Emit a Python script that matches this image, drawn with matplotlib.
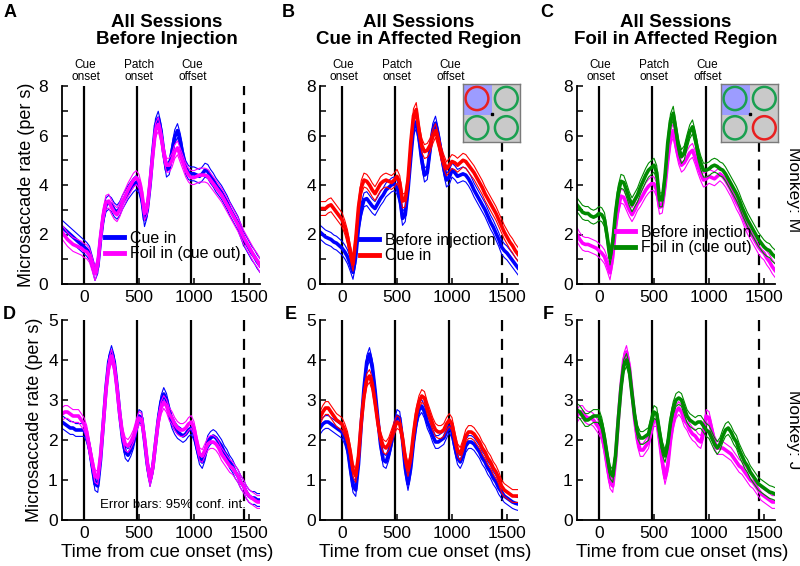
import matplotlib
matplotlib.use('Agg')
import matplotlib.pyplot as plt
import numpy as np
from matplotlib.ticker import MultipleLocator
from matplotlib.patches import Rectangle, Circle
import matplotlib.transforms as mtransforms

plt.rcParams['font.family'] = ['Liberation Sans', 'DejaVu Sans']

# ---------------- data (sampled every 25 ms from -200 to 1600 ms) ----------------
time_ms = list(range(-200, 1601, 25))

# Panel A (monkey M, before injection)
a_cue_in = [2.3, 2.2, 2.1, 2.0, 1.9, 1.8, 1.7, 1.6,
            1.5, 1.4, 1.25, 0.85, 0.42, 0.7, 1.8, 2.7,
            3.2, 3.3, 3.2, 3.0, 2.9, 3.05, 3.3, 3.5,
            3.7, 3.85, 4.0, 4.1, 3.95, 3.5, 2.6, 3.0,
            4.0, 5.3, 6.4, 6.7, 6.2, 5.3, 4.6, 4.7,
            5.35, 5.95, 6.2, 5.8, 5.15, 4.7, 4.5, 4.45,
            4.45, 4.4, 4.35, 4.45, 4.6, 4.55, 4.35, 4.2,
            4.0, 3.85, 3.7, 3.5, 3.3, 3.05, 2.85, 2.65,
            2.45, 2.15, 1.85, 1.65, 1.45, 1.25, 1.1, 0.9,
            0.75]
a_foil_in = [2.1, 1.95, 1.8, 1.7, 1.6, 1.55, 1.5, 1.45,
             1.35, 1.3, 1.15, 0.8, 0.42, 0.8, 1.9, 2.8,
             3.3, 3.35, 3.1, 2.9, 2.8, 3.0, 3.3, 3.55,
             3.8, 4.0, 4.2, 4.3, 4.15, 3.7, 2.85, 3.1,
             4.1, 5.2, 6.2, 6.45, 6.0, 5.3, 4.8, 4.8,
             5.0, 5.35, 5.5, 5.2, 4.9, 4.6, 4.4, 4.3,
             4.3, 4.35, 4.4, 4.4, 4.4, 4.35, 4.2, 4.05,
             3.9, 3.75, 3.6, 3.4, 3.2, 3.0, 2.8, 2.6,
             2.4, 2.15, 1.9, 1.7, 1.5, 1.3, 1.1, 0.95,
             0.75]
# Panel B (monkey M, cue in affected region)
b_before = [2.1, 2.0, 1.9, 1.85, 1.8, 1.7, 1.65, 1.55,
            1.45, 1.3, 1.1, 0.8, 0.47, 1.1, 2.3, 3.0,
            3.4, 3.45, 3.3, 3.15, 3.05, 3.25, 3.45, 3.6,
            3.8, 3.9, 4.0, 4.05, 3.9, 3.5, 2.65, 2.8,
            3.8, 5.1, 6.3, 6.55, 5.9, 5.0, 4.4, 4.5,
            5.4, 6.2, 6.5, 6.0, 5.35, 4.7, 4.2, 4.3,
            4.6, 4.5, 4.35, 4.4, 4.45, 4.4, 4.25, 4.05,
            3.8, 3.6, 3.4, 3.2, 3.0, 2.75, 2.5, 2.3,
            2.05, 1.8, 1.5, 1.35, 1.25, 1.1, 0.95, 0.8,
            0.65]
b_cue_in = [3.05, 3.05, 3.05, 3.15, 3.2, 3.05, 2.9, 2.75,
            2.6, 2.3, 1.9, 1.3, 0.8, 1.8, 3.1, 3.9,
            4.2, 4.15, 4.0, 3.8, 3.65, 3.85, 4.05, 4.15,
            4.2, 4.15, 4.1, 4.2, 4.35, 4.1, 3.35, 3.4,
            4.2, 5.7, 6.8, 7.05, 6.2, 5.6, 5.35, 5.4,
            5.6, 5.95, 6.2, 5.8, 5.3, 4.95, 4.65, 4.8,
            4.95, 4.9, 4.8, 4.9, 5.0, 4.95, 4.8, 4.65,
            4.5, 4.3, 4.1, 3.9, 3.65, 3.45, 3.25, 3.05,
            2.85, 2.6, 2.35, 2.1, 1.9, 1.7, 1.55, 1.35,
            1.2]
# Panel C (monkey M, foil in affected region)
c_before = [2.0, 1.8, 1.65, 1.6, 1.6, 1.55, 1.5, 1.45,
            1.35, 1.25, 1.1, 0.8, 0.45, 1.1, 2.3, 3.1,
            3.55, 3.5, 3.25, 3.0, 2.8, 3.0, 3.25, 3.4,
            3.6, 3.8, 3.95, 4.05, 4.05, 3.8, 3.1, 3.15,
            3.95, 5.0, 5.9, 6.2, 5.6, 5.1, 4.8, 4.9,
            5.1, 5.3, 5.4, 5.1, 4.75, 4.45, 4.2, 4.25,
            4.35, 4.3, 4.25, 4.35, 4.45, 4.35, 4.2, 4.0,
            3.8, 3.55, 3.3, 3.1, 2.85, 2.55, 2.3, 2.1,
            1.9, 1.7, 1.5, 1.35, 1.25, 1.05, 0.9, 0.7,
            0.55]
c_foil_in = [3.2, 3.05, 2.9, 2.85, 2.85, 2.75, 2.7, 2.75,
             2.85, 2.8, 2.6, 1.9, 1.05, 1.7, 2.85, 3.7,
             4.15, 4.1, 3.8, 3.45, 3.2, 3.4, 3.6, 3.9,
             4.15, 4.4, 4.6, 4.7, 4.8, 4.5, 3.4, 3.4,
             4.35, 5.7, 6.6, 6.9, 6.2, 5.5, 5.15, 5.3,
             5.75, 6.15, 6.35, 5.9, 5.3, 4.9, 4.6, 4.6,
             4.65, 4.75, 4.8, 4.75, 4.65, 4.6, 4.45, 4.25,
             4.05, 3.85, 3.65, 3.4, 3.1, 2.85, 2.6, 2.4,
             2.2, 2.0, 1.8, 1.65, 1.5, 1.4, 1.35, 1.2,
             1.1]
# Panel D (monkey J, before injection)
d_cue_in = [2.45, 2.4, 2.35, 2.3, 2.3, 2.25, 2.25, 2.25,
            2.25, 2.1, 1.8, 1.35, 0.9, 0.85, 1.5, 2.4,
            3.3, 3.95, 4.2, 3.95, 3.35, 2.65, 2.05, 1.7,
            1.62, 1.75, 1.95, 2.3, 2.6, 2.55, 2.0, 1.4,
            1.0, 1.3, 1.9, 2.5, 2.95, 3.15, 3.0, 2.7,
            2.45, 2.3, 2.2, 2.15, 2.1, 2.15, 2.25, 2.3,
            2.15, 1.85, 1.55, 1.45, 1.65, 1.95, 2.05, 2.1,
            2.05, 1.95, 1.85, 1.7, 1.6, 1.45, 1.35, 1.2,
            1.1, 0.95, 0.85, 0.7, 0.6, 0.55, 0.55, 0.5,
            0.5]
d_foil_in = [2.65, 2.7, 2.7, 2.65, 2.6, 2.6, 2.6, 2.5,
             2.4, 2.2, 1.8, 1.45, 1.1, 1.05, 1.6, 2.4,
             3.25, 3.85, 4.1, 3.85, 3.3, 2.65, 2.15, 1.9,
             1.85, 1.95, 2.1, 2.35, 2.55, 2.5, 2.05, 1.45,
             1.0, 1.3, 1.9, 2.45, 2.8, 2.95, 2.85, 2.65,
             2.55, 2.4, 2.3, 2.25, 2.25, 2.3, 2.4, 2.45,
             2.3, 1.95, 1.65, 1.6, 1.75, 1.9, 1.95, 1.95,
             1.9, 1.8, 1.65, 1.55, 1.45, 1.35, 1.3, 1.2,
             1.1, 0.95, 0.85, 0.7, 0.6, 0.55, 0.5, 0.45,
             0.45]
# Panel E (monkey J, cue in affected region)
e_before = [2.3, 2.4, 2.45, 2.45, 2.4, 2.35, 2.3, 2.25,
            2.2, 2.05, 1.8, 1.3, 0.85, 0.75, 1.4, 2.4,
            3.3, 3.95, 4.15, 3.85, 3.25, 2.55, 1.9, 1.5,
            1.45, 1.65, 1.95, 2.3, 2.6, 2.55, 2.0, 1.3,
            0.9, 1.3, 1.95, 2.45, 2.75, 2.85, 2.7, 2.45,
            2.3, 2.1, 1.95, 1.95, 2.0, 2.05, 2.2, 2.35,
            2.2, 1.85, 1.55, 1.45, 1.6, 1.85, 1.95, 1.95,
            1.9, 1.8, 1.7, 1.55, 1.45, 1.3, 1.2, 1.05,
            0.95, 0.8, 0.7, 0.6, 0.55, 0.5, 0.45, 0.42,
            0.4]
e_cue_in = [2.55, 2.7, 2.8, 2.8, 2.7, 2.6, 2.5, 2.45,
            2.4, 2.25, 2.05, 1.7, 1.25, 1.1, 1.6, 2.45,
            3.1, 3.5, 3.6, 3.4, 2.95, 2.45, 2.05, 1.85,
            1.8, 1.9, 2.1, 2.3, 2.45, 2.4, 2.05, 1.55,
            1.25, 1.55, 2.15, 2.65, 2.95, 3.1, 3.05, 2.8,
            2.6, 2.4, 2.25, 2.2, 2.2, 2.25, 2.4, 2.5,
            2.4, 2.05, 1.75, 1.65, 1.85, 2.1, 2.2, 2.2,
            2.15, 2.05, 1.95, 1.8, 1.7, 1.55, 1.45, 1.3,
            1.2, 1.05, 0.85, 0.75, 0.7, 0.65, 0.6, 0.6,
            0.6]
# Panel F (monkey J, foil in affected region)
f_before = [2.6, 2.7, 2.7, 2.6, 2.55, 2.55, 2.5, 2.4,
            2.3, 2.15, 1.8, 1.35, 0.95, 0.85, 1.5, 2.5,
            3.35, 4.0, 4.2, 3.85, 3.2, 2.5, 2.0, 1.75,
            1.75, 1.85, 1.95, 2.25, 2.5, 2.5, 2.0, 1.45,
            1.05, 1.35, 2.0, 2.45, 2.7, 2.8, 2.7, 2.5,
            2.4, 2.25, 2.15, 2.1, 2.0, 1.95, 2.2, 2.6,
            2.55, 2.25, 1.95, 1.8, 1.8, 1.8, 1.75, 1.7,
            1.65, 1.55, 1.45, 1.35, 1.3, 1.2, 1.1, 1.0,
            0.95, 0.85, 0.75, 0.65, 0.6, 0.55, 0.5, 0.45,
            0.45]
f_foil_in = [2.75, 2.7, 2.6, 2.5, 2.5, 2.55, 2.6, 2.6,
             2.6, 2.4, 2.05, 1.6, 1.2, 1.1, 1.6, 2.5,
             3.3, 3.85, 4.0, 3.75, 3.15, 2.6, 2.2, 2.05,
             2.05, 2.1, 2.15, 2.45, 2.7, 2.65, 2.2, 1.8,
             1.6, 1.9, 2.45, 2.8, 3.0, 3.05, 3.0, 2.8,
             2.6, 2.5, 2.45, 2.4, 2.45, 2.45, 2.35, 2.25,
             2.2, 2.05, 1.9, 1.8, 1.9, 2.1, 2.25, 2.3,
             2.2, 2.05, 1.95, 1.75, 1.6, 1.45, 1.35, 1.2,
             1.1, 1.0, 0.9, 0.85, 0.8, 0.75, 0.7, 0.68,
             0.65]

# 95% confidence half-widths
ci_top = 0.28
ci_bottom = 0.16

event_times = [0, 485, 970]
event_labels = ['Cue\nonset', 'Patch\nonset', 'Cue\noffset']
end_time = 1450

BLUE = '#0000ff'
MAG = '#ff00ff'
RED = '#ff0000'
GREEN = '#008a00'

panels = [
    dict(letter='A', row=0, col=0, s=[(a_cue_in, BLUE, 'Cue in'), (a_foil_in, MAG, 'Foil in (cue out)')],
         title='All Sessions\nBefore Injection', leg=(0.215, 0.27)),
    dict(letter='B', row=0, col=1, s=[(b_before, BLUE, 'Before injection'), (b_cue_in, RED, 'Cue in')],
         title='All Sessions\nCue in Affected Region', leg=(0.2, 0.26)),
    dict(letter='C', row=0, col=2, s=[(c_before, MAG, 'Before injection'), (c_foil_in, GREEN, 'Foil in (cue out)')],
         title='All Sessions\nFoil in Affected Region', leg=(0.195, 0.30)),
    dict(letter='D', row=1, col=0, s=[(d_cue_in, BLUE, None), (d_foil_in, MAG, None)]),
    dict(letter='E', row=1, col=1, s=[(e_before, BLUE, None), (e_cue_in, RED, None)]),
    dict(letter='F', row=1, col=2, s=[(f_before, MAG, None), (f_foil_in, GREEN, None)]),
]

fig = plt.figure(figsize=(8, 5.66), dpi=100)

lefts = [62 / 800, 320 / 800, 577 / 800]
width = 198 / 800
bottoms = [1 - 284 / 566, 1 - 520 / 566]
heights = [198 / 566, 200 / 566]
letter_pos = {'A': (4, 4), 'B': (282, 4), 'C': (540, 4), 'D': (3, 306), 'E': (285, 306), 'F': (543, 306)}

t = np.array(time_ms)
for p in panels:
    r, c = p['row'], p['col']
    ax = fig.add_axes([lefts[c], bottoms[r], width, heights[r]])
    ci = ci_top if r == 0 else ci_bottom
    handles = []
    for vals, col, lab in p['s']:
        v = np.array(vals)
        ax.plot(t, v + ci, color=col, lw=0.8)
        ax.plot(t, v - ci, color=col, lw=0.8)
        h, = ax.plot(t, v, color=col, lw=2.6)
        handles.append((h, lab))
    ymax = 8 if r == 0 else 5
    for et in event_times:
        ax.plot([et, et], [0, ymax], color='black', lw=1.6, zorder=1)
    ax.plot([end_time, end_time], [0, ymax], color='black', lw=1.6, ls=(0, (5, 3.5)), zorder=1)
    ax.set_xlim(-200, 1600)
    ax.set_ylim(0, ymax)
    ax.set_xticks([0, 500, 1000, 1500])
    if r == 0:
        ax.yaxis.set_major_locator(MultipleLocator(2))
        ax.yaxis.set_minor_locator(MultipleLocator(1))
    else:
        ax.yaxis.set_major_locator(MultipleLocator(1))
    for sp in ['top', 'right']:
        ax.spines[sp].set_visible(False)
    for sp in ['left', 'bottom']:
        ax.spines[sp].set_linewidth(1.3)
    ax.tick_params(which='both', direction='in', length=4, width=1.1, labelsize=12.5)
    ax.tick_params(axis='x', pad=4)
    ax.tick_params(axis='y', pad=(10 if (r == 0 and c == 0) else 3))
    if c == 0:
        ax.set_ylabel('Microsaccade rate (per s)', fontsize=13)
        ax.yaxis.set_label_coords(-0.135 if r == 0 else -0.095, 0.5)
    if r == 1:
        ax.set_xlabel('Time from cue onset (ms)', fontsize=13.5)
        ax.xaxis.set_label_coords(0.53, -0.12)
    if r == 0:
        trans = mtransforms.blended_transform_factory(ax.transData, ax.transAxes)
        for et, lab in zip(event_times, event_labels):
            ax.text(et + 15, 1.015, lab, transform=trans, ha='center', va='bottom', fontsize=8.5,
                    linespacing=0.95)
        tx = 0.53 if c == 0 else 0.5
        ax.text(tx, 1.19, p['title'], transform=ax.transAxes, ha='center', va='bottom',
                fontsize=13.5, fontweight='bold', linespacing=1.05)
        leg = ax.legend([h for h, _ in handles], [l for _, l in handles], loc='upper left',
                        bbox_to_anchor=p['leg'], frameon=False, fontsize=11.5, handlelength=1.2,
                        handletextpad=0.4, borderpad=0, borderaxespad=0, labelspacing=0.05)
        for ln in leg.get_lines():
            ln.set_linewidth(3.5)
    if p['letter'] == 'D':
        ax.text(0.56, 0.045, 'Error bars: 95% conf. int.', transform=ax.transAxes, ha='center',
                va='bottom', fontsize=9.5)
    lx, ly = letter_pos[p['letter']]
    fig.text(lx / 800, 1 - ly / 566, p['letter'], fontsize=13, fontweight='bold', ha='left', va='top')

fig.text(0.992, 1 - 190 / 566, 'Monkey: M', rotation=270, ha='center', va='center', fontsize=12.5)
fig.text(0.992, 1 - 430 / 566, 'Monkey: J', rotation=270, ha='center', va='center', fontsize=12.5)


def inset(x0, ring_colors):
    ia = fig.add_axes([x0 / 800, 1 - 142 / 566, 57 / 800, 58 / 566])
    ia.set_xlim(0, 1)
    ia.set_ylim(0, 1)
    ia.set_facecolor('#c9c9c9')
    for sp in ia.spines.values():
        sp.set_color('#7a7a7a')
        sp.set_linewidth(1.0)
    ia.set_xticks([])
    ia.set_yticks([])
    ia.add_patch(Rectangle((0, 0.47), 0.51, 0.53, color='#9c9cff', lw=0))
    centers = [(0.245, 0.75), (0.76, 0.75), (0.245, 0.245), (0.76, 0.245)]
    for (cx, cy), rc in zip(centers, ring_colors):
        ia.add_patch(Circle((cx, cy), 0.2, fill=False, ec=rc, lw=1.8))
    ia.plot([0.5], [0.49], marker='s', color='black', ms=1.8)


ring_g = '#1aa050'
ring_r = '#e82020'
inset(463, [ring_r, ring_g, ring_g, ring_g])
inset(721, [ring_g, ring_g, ring_g, ring_r])

fig.savefig('out.png', dpi=100)
